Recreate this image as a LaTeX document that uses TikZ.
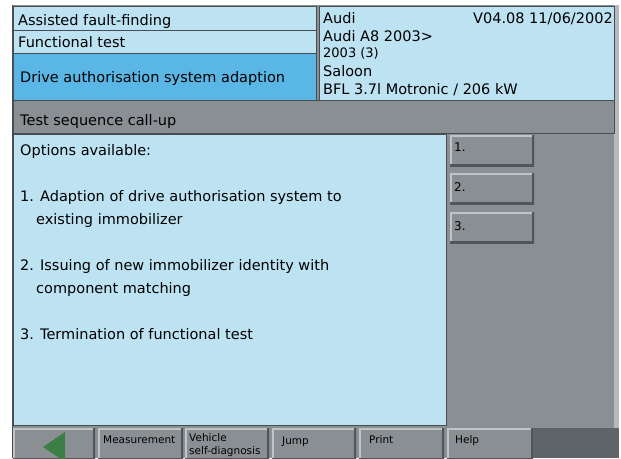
\documentclass[tikz,border=0pt]{standalone}
\usepackage{fontspec}
\setmainfont{DejaVu Sans}
\definecolor{paleblue}{RGB}{189,227,242}
\definecolor{selblue}{RGB}{90,182,229}
\definecolor{panelgray}{RGB}{138,143,148}
\definecolor{darkpanel}{RGB}{95,100,105}
\definecolor{edgegray}{RGB}{72,77,82}
\definecolor{btnlight}{RGB}{192,196,199}
\definecolor{btndark}{RGB}{80,85,90}
\definecolor{arrowgreen}{RGB}{60,126,68}

\begin{document}
\begin{tikzpicture}[x=1pt, y=-1pt,
  box/.style={draw=edgegray, line width=0.8pt, inner sep=0pt, anchor=north west},
  btn/.style={fill=panelgray, inner sep=0pt, anchor=north west,
    path picture={
      \draw[btnlight, line width=4pt] (path picture bounding box.south west) -- (path picture bounding box.north west) -- (path picture bounding box.north east);
      \draw[btndark, line width=4pt] (path picture bounding box.north east) -- (path picture bounding box.south east) -- (path picture bounding box.south west);}},
  txt/.style={anchor=base west, inner sep=0pt, font=\fontsize{14.5}{17}\selectfont},
  btntxt/.style={anchor=base west, inner sep=0pt, font=\fontsize{12}{14}\selectfont},
  bartxt/.style={anchor=base west, inner sep=0pt, font=\fontsize{10.5}{12}\selectfont}]
\useasboundingbox (0,0) rectangle (621,458);
\clip (0,0) rectangle (621,458);

% frame
\fill[panelgray] (12,5) rectangle (619,458);
\fill[btnlight!80!panelgray] (614,5) rectangle (619,458);
\draw[edgegray, line width=1pt] (12.5,5) -- (12.5,458);

% header
\node[box, fill=paleblue, minimum width=303pt, minimum height=24pt] (fault) at (13,6) {};
\node[box, fill=paleblue, minimum width=303pt, minimum height=23pt] (func) at (13,30) {};
\node[box, fill=selblue, minimum width=303pt, minimum height=47pt] (adapt) at (13,53) {};
\node[box, fill=paleblue, minimum width=295pt, minimum height=94pt] (car) at (319,6) {};

\node[txt] (tfault) at (18,25) {Assisted fault-finding};
\node[txt] (tfunc) at (18,47) {Functional test};
\node[txt] (tadapt) at (20,82) {Drive authorisation system adaption};

\node[txt] (make) at (323,23) {Audi};
\node[txt, anchor=base east] (vers) at (613,23) {V04.08 11/06/2002};
\node[txt] (model) at (323,41) {Audi A8 2003>};
\node[txt, font=\fontsize{13}{15}\selectfont] (year) at (323,57) {2003 (3)};
\node[txt] (body) at (323,76) {Saloon};
\node[txt] (engine) at (323,94) {BFL 3.7l Motronic / 206 kW};

% test sequence
\node[box, fill=panelgray, minimum width=601pt, minimum height=33pt] (seqbar) at (13,100) {};
\node[txt] (tseq) at (20,125) {Test sequence call-up};
\node[box, fill=paleblue, minimum width=433pt, minimum height=291pt] (opts) at (13,134) {};

\node[txt] (o0) at (20,155) {Options available:};
\node[txt] (o1) at (20,201) {1. Adaption of drive authorisation system to};
\node[txt] (o1b) at (36,224) {existing immobilizer};
\node[txt] (o2) at (20,270) {2. Issuing of new immobilizer identity with};
\node[txt] (o2b) at (36,293) {component matching};
\node[txt] (o3) at (20,339) {3. Termination of functional test};

% choice buttons
\node[btn, minimum width=84pt, minimum height=31pt] (b1) at (450,135) {};
\node[btn, minimum width=84pt, minimum height=31pt] (b2) at (450,173) {};
\node[btn, minimum width=84pt, minimum height=31pt] (b3) at (450,212) {};
\node[btntxt] (tb1) at (454,151) {1.};
\node[btntxt] (tb2) at (454,191) {2.};
\node[btntxt] (tb3) at (454,230) {3.};

% bottom bar
\node[btn, minimum width=82pt, minimum height=32pt] (back) at (13,428) {};
\node[btn, minimum width=85pt, minimum height=32pt] (meas) at (98,428) {};
\node[btn, minimum width=84pt, minimum height=32pt] (diag) at (185,428) {};
\node[btn, minimum width=84pt, minimum height=32pt] (jump) at (272,428) {};
\node[btn, minimum width=85pt, minimum height=32pt] (print) at (359,428) {};
\node[btn, minimum width=86pt, minimum height=32pt] (help) at (447,428) {};
\fill[darkpanel] (533,428) rectangle (619,458);

\fill[arrowgreen] (43,447) -- (65,432) -- (65,462) -- cycle;
\node[bartxt] (tmeas) at (103,443) {Measurement};
\node[bartxt] (tdiag) at (189,441) {Vehicle};
\node[bartxt] (tdiag2) at (189,454) {self-diagnosis};
\node[bartxt] (tjump) at (282,444) {Jump};
\node[bartxt] (tprint) at (369,443) {Print};
\node[bartxt] (thelp) at (455,443) {Help};
\end{tikzpicture}
\end{document}
